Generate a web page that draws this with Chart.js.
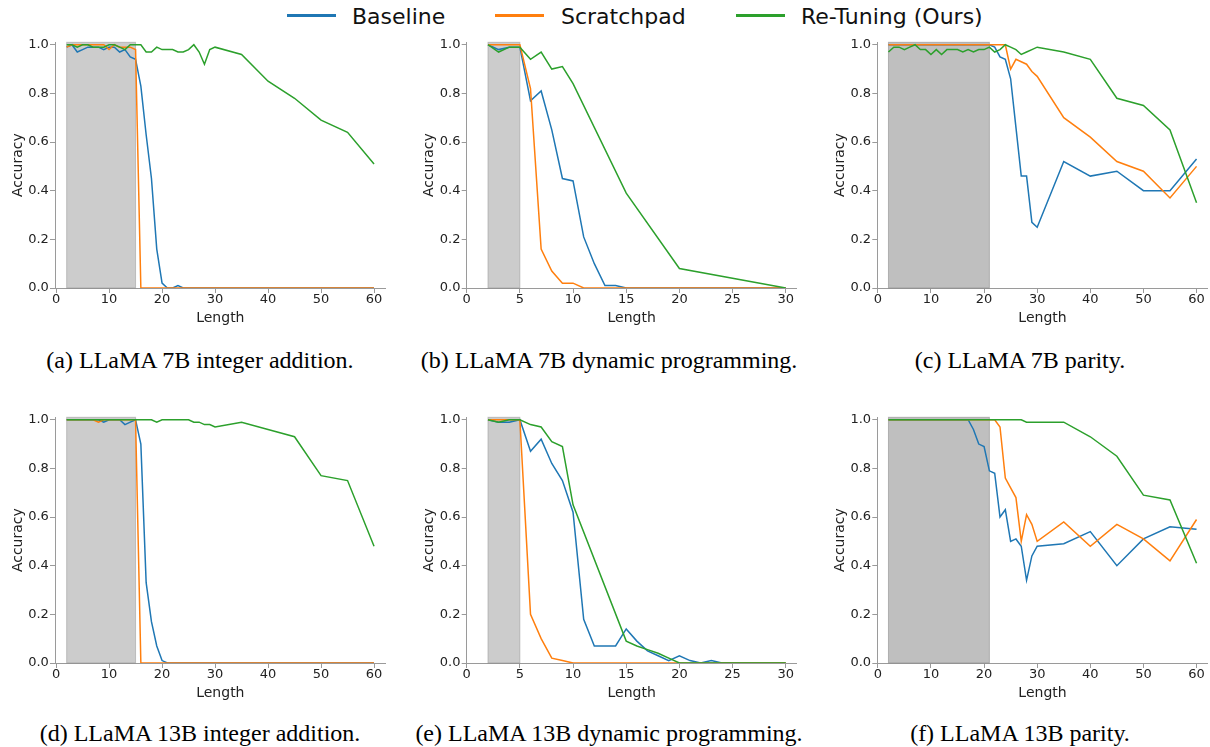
<!DOCTYPE html>
<html><head><meta charset="utf-8">
<script src="https://cdn.jsdelivr.net/npm/chart.js@4.4.0/dist/chart.umd.min.js"></script>
<style>
html,body{margin:0;padding:0;background:#fff;}
body{width:1210px;height:747px;overflow:hidden;position:relative;font-family:"DejaVu Sans";}
canvas{position:absolute;}
.cap{position:absolute;font-family:"Liberation Serif";font-size:24px;line-height:24px;white-space:nowrap;transform:translateX(-50%);color:#000;}
.lg-line{position:absolute;height:3px;top:13.5px;width:49px;}
.lg-text{position:absolute;font-family:"DejaVu Sans";font-size:22px;line-height:22px;top:6.4px;white-space:nowrap;color:#111;}
</style></head><body>
<script>
// ---------- data ----------
const seriesNames = ['Baseline', 'Scratchpad', 'Re-Tuning (Ours)'];
const seriesColors = ['#1f77b4', '#ff7f0e', '#2ca02c'];

// (a) LLaMA 7B integer addition
const lenA = [2,3,4,5,6,7,8,9,10,11,12,13,14,15,16,17,18,19,20,21,22,23,24,25,26,27,28,29,30,35,40,45,50,55,60];
const baselineA = [0.99,1.00,0.97,0.98,0.99,0.99,0.99,0.98,0.99,0.99,0.97,0.98,0.95,0.94,0.83,0.63,0.45,0.16,0.02,0.00,0.00,0.01,0.00,0.00,0.00,0.00,0.00,0.00,0.00,0.00,0.00,0.00,0.00,0.00,0.00];
const scratchA  = [0.99,1.00,1.00,1.00,1.00,1.00,1.00,1.00,0.98,1.00,0.99,0.99,0.99,0.98,0.00,0.00,0.00,0.00,0.00,0.00,0.00,0.00,0.00,0.00,0.00,0.00,0.00,0.00,0.00,0.00,0.00,0.00,0.00,0.00,0.00];
const retuneA   = [1.00,1.00,0.99,1.00,1.00,0.99,0.99,0.99,1.00,1.00,0.99,0.98,1.00,1.00,1.00,0.97,0.97,0.99,0.98,0.98,0.98,0.97,0.97,0.98,1.00,0.97,0.92,0.98,0.99,0.96,0.85,0.78,0.69,0.64,0.51];

// (b) LLaMA 7B dynamic programming
const lenB = [2,3,4,5,6,7,8,9,10,11,12,13,14,15,20,25,30];
const baselineB = [1.00,0.98,0.99,0.99,0.77,0.81,0.65,0.45,0.44,0.21,0.10,0.01,0.01,0.00,0.00,0.00,0.00];
const scratchB  = [1.00,1.00,1.00,1.00,0.82,0.16,0.07,0.02,0.02,0.00,0.00,0.00,0.00,0.00,0.00,0.00,0.00];
const retuneB   = [1.00,0.97,0.99,0.99,0.94,0.97,0.90,0.91,0.84,null,null,null,null,0.39,0.08,null,0.00];

// (c) LLaMA 7B parity
const lenC = [2,3,4,5,6,7,8,9,10,11,12,13,14,15,16,17,18,19,20,21,22,23,24,25,26,27,28,29,30,35,40,45,50,55,60];
const baselineC = [1.00,1.00,1.00,1.00,1.00,1.00,1.00,1.00,1.00,1.00,1.00,1.00,1.00,1.00,1.00,1.00,1.00,1.00,1.00,1.00,0.99,0.95,0.94,0.86,0.66,0.46,0.46,0.27,0.25,0.52,0.46,0.48,0.40,0.40,0.53];
const scratchC  = [1.00,1.00,1.00,1.00,1.00,1.00,1.00,1.00,1.00,1.00,1.00,1.00,1.00,1.00,1.00,1.00,1.00,1.00,1.00,1.00,1.00,1.00,1.00,0.90,0.94,0.93,0.92,0.89,0.87,0.70,0.62,0.52,0.48,0.37,0.50];
const retuneC   = [0.97,0.99,0.99,0.98,0.99,1.00,0.98,0.98,0.96,0.98,0.96,0.98,0.98,0.98,0.97,0.98,0.97,0.98,0.98,0.99,0.97,0.98,1.00,0.99,0.98,0.96,0.97,0.98,0.99,0.97,0.94,0.78,0.75,0.65,0.35];

// (d) LLaMA 13B integer addition
const lenD = [2,3,4,5,6,7,8,9,10,11,12,13,14,15,16,17,18,19,20,21,22,23,24,25,26,27,28,29,30,35,40,45,50,55,60];
const baselineD = [1.00,1.00,1.00,1.00,1.00,1.00,1.00,0.99,1.00,1.00,1.00,0.98,0.99,1.00,0.90,0.33,0.17,0.07,0.01,0.00,0.00,0.00,0.00,0.00,0.00,0.00,0.00,0.00,0.00,0.00,0.00,0.00,0.00,0.00,0.00];
const scratchD  = [1.00,1.00,1.00,1.00,1.00,1.00,0.99,1.00,1.00,1.00,1.00,1.00,1.00,1.00,0.00,0.00,0.00,0.00,0.00,0.00,0.00,0.00,0.00,0.00,0.00,0.00,0.00,0.00,0.00,0.00,0.00,0.00,0.00,0.00,0.00];
const retuneD   = [1.00,1.00,1.00,1.00,1.00,1.00,1.00,1.00,1.00,1.00,1.00,1.00,1.00,1.00,1.00,1.00,1.00,0.99,1.00,1.00,1.00,1.00,1.00,1.00,0.99,0.99,0.98,0.98,0.97,0.99,0.96,0.93,0.77,0.75,0.48];

// (e) LLaMA 13B dynamic programming
const lenE = [2,3,4,5,6,7,8,9,10,11,12,13,14,15,16,17,18,19,20,21,22,23,24,25,26,27,28,29,30];
const baselineE = [1.00,0.99,0.99,1.00,0.87,0.92,0.82,0.75,0.62,0.18,0.07,0.07,0.07,0.14,0.09,0.05,0.03,0.01,0.03,0.01,0.00,0.01,0.00,0.00,0.00,0.00,0.00,0.00,0.00];
const scratchE  = [1.00,1.00,1.00,1.00,0.20,0.10,0.02,0.01,0.00,0.00,0.00,0.00,0.00,0.00,0.00,0.00,0.00,0.00,0.00,0.00,0.00,0.00,0.00,0.00,0.00,0.00,0.00,0.00,0.00];
const retuneE   = [1.00,0.99,1.00,1.00,0.98,0.97,0.91,0.89,0.65,null,null,null,null,0.09,0.07,0.055,0.04,0.02,0.00,0.00,0.00,0.00,0.00,0.00,0.00,0.00,0.00,0.00,0.00];

// (f) LLaMA 13B parity
const lenF = [2,3,4,5,6,7,8,9,10,11,12,13,14,15,16,17,18,19,20,21,22,23,24,25,26,27,28,29,30,35,40,45,50,55,60];
const baselineF = [1.00,1.00,1.00,1.00,1.00,1.00,1.00,1.00,1.00,1.00,1.00,1.00,1.00,1.00,1.00,1.00,0.96,0.90,0.89,0.79,0.78,0.60,0.63,0.50,0.51,0.48,0.34,0.44,0.48,0.49,0.54,0.40,0.51,0.56,0.55];
const scratchF  = [1.00,1.00,1.00,1.00,1.00,1.00,1.00,1.00,1.00,1.00,1.00,1.00,1.00,1.00,1.00,1.00,1.00,1.00,1.00,1.00,1.00,0.97,0.76,0.72,0.68,0.50,0.61,0.57,0.50,0.58,0.48,0.57,0.51,0.42,0.59];
const retuneF   = [1.00,1.00,1.00,1.00,1.00,1.00,1.00,1.00,1.00,1.00,1.00,1.00,1.00,1.00,1.00,1.00,1.00,1.00,1.00,1.00,1.00,1.00,1.00,1.00,1.00,1.00,0.99,0.99,0.99,0.99,0.93,0.85,0.69,0.67,0.41];

// training-length ranges (shaded)
const trainA = [2, 15], trainB = [2, 5], trainC = [2, 21];
const trainD = [2, 15], trainE = [2, 5], trainF = [2, 21];

// tick labels
const xTicks60 = [0, 10, 20, 30, 40, 50, 60];
const xTicks30 = [0, 5, 10, 15, 20, 25, 30];
const yTicks = [0.0, 0.2, 0.4, 0.6, 0.8, 1.0];

const captionTexts = [
  '(a) LLaMA 7B integer addition.',
  '(b) LLaMA 7B dynamic programming.',
  '(c) LLaMA 7B parity.',
  '(d) LLaMA 13B integer addition.',
  '(e) LLaMA 13B dynamic programming.',
  '(f) LLaMA 13B parity.'
];

// ---------- layout ----------
const SPINE = '#9a9a9a';
const TEXT = '#222222';
const colLeft = [0, 411, 822];
const colChartLeft = [55, 55.7, 55.3];
const rowTop = [30, 405];
const capCenter = [200, 609, 1020];
const capTop = [348, 721];

const panels = [
  {len: lenA, s: [baselineA, scratchA, retuneA], xt: xTicks60, xmin: -0.2, xmax: 62.2, train: trainA, alpha: 0.4, col: 0, row: 0},
  {len: lenB, s: [baselineB, scratchB, retuneB], xt: xTicks30, xmin: 0, xmax: 31.03, train: trainB, alpha: 0.4, col: 1, row: 0},
  {len: lenC, s: [baselineC, scratchC, retuneC], xt: xTicks60, xmin: -0.1, xmax: 62.1, train: trainC, alpha: 0.5, col: 2, row: 0},
  {len: lenD, s: [baselineD, scratchD, retuneD], xt: xTicks60, xmin: -0.2, xmax: 62.2, train: trainD, alpha: 0.4, col: 0, row: 1},
  {len: lenE, s: [baselineE, scratchE, retuneE], xt: xTicks30, xmin: 0, xmax: 31.03, train: trainE, alpha: 0.4, col: 1, row: 1},
  {len: lenF, s: [baselineF, scratchF, retuneF], xt: xTicks60, xmin: -0.1, xmax: 62.1, train: trainF, alpha: 0.5, col: 2, row: 1}
];

const spanPlugin = {
  id: 'trainSpan',
  beforeDatasetsDraw(chart, args, opts) {
    const {ctx, chartArea, scales} = chart;
    const x0 = scales.x.getPixelForValue(opts.range[0]);
    const x1 = scales.x.getPixelForValue(opts.range[1]);
    const c = 'rgba(128,128,128,' + opts.alpha + ')';
    ctx.save();
    ctx.fillStyle = c;
    ctx.fillRect(x0, chartArea.top, x1 - x0, chartArea.bottom - chartArea.top);
    ctx.strokeStyle = c;
    ctx.lineWidth = 1;
    ctx.strokeRect(x0, chartArea.top, x1 - x0, chartArea.bottom - chartArea.top);
    ctx.restore();
  }
};

Chart.defaults.font.family = 'DejaVu Sans';

panels.forEach((p, idx) => {
  const cv = document.createElement('canvas');
  cv.width = 400; cv.height = 300;
  cv.style.left = colLeft[p.col] + 'px';
  cv.style.top = rowTop[p.row] + 'px';
  cv.style.width = '400px'; cv.style.height = '300px';
  document.body.appendChild(cv);

  const datasets = p.s.map((vals, i) => ({
    label: seriesNames[i],
    data: p.len.map((x, k) => ({x: x, y: vals[k]})),
    borderColor: seriesColors[i],
    backgroundColor: seriesColors[i],
    borderWidth: 1.5,
    pointRadius: 0,
    tension: 0,
    spanGaps: true,
    fill: false,
    order: 3 - i
  }));

  new Chart(cv, {
    type: 'line',
    data: {datasets},
    plugins: [spanPlugin],
    options: {
      responsive: false,
      animation: false,
      devicePixelRatio: 1,
      layout: {padding: {left: 0, right: 14.3, top: 12.3, bottom: 0}},
      plugins: {
        legend: {display: false},
        tooltip: {enabled: false},
        trainSpan: {range: p.train, alpha: p.alpha}
      },
      scales: {
        x: {
          type: 'linear', min: p.xmin, max: p.xmax,
          afterBuildTicks: s => { s.ticks = p.xt.map(v => ({value: v})); },
          afterFit: s => { s.height = 42; },
          grid: {drawOnChartArea: false, drawTicks: true, tickLength: 5, color: SPINE, lineWidth: 1},
          border: {display: true, color: SPINE, width: 1},
          ticks: {font: {size: 13, lineHeight: 1}, color: TEXT, padding: 0, maxRotation: 0, autoSkip: false,
                  callback: v => String(v)},
          title: {display: true, text: 'Length', color: TEXT, font: {size: 14}, padding: {top: 0, bottom: 3.4}}
        },
        y: {
          type: 'linear', min: 0, max: 1.01,
          afterBuildTicks: s => { s.ticks = yTicks.map(v => ({value: v})); },
          afterFit: s => { s.width = colChartLeft[p.col]; },
          grid: {drawOnChartArea: false, drawTicks: true, tickLength: 5, color: SPINE, lineWidth: 1},
          border: {display: true, color: SPINE, width: 1},
          ticks: {font: {size: 13}, color: TEXT, padding: 1.2, autoSkip: false,
                  callback: v => Number(v).toFixed(1)},
          title: {display: true, text: 'Accuracy', color: TEXT, font: {size: 14}, padding: {top: 9.5, bottom: 0}}
        }
      }
    }
  });

  const cap = document.createElement('div');
  cap.className = 'cap';
  cap.textContent = captionTexts[idx];
  cap.style.left = capCenter[p.col] + 'px';
  cap.style.top = capTop[p.row] + 'px';
  document.body.appendChild(cap);
});

// ---------- legend ----------
const legendLineX = [287, 495, 736];
const legendTextX = [352, 561, 801];
seriesNames.forEach((name, i) => {
  const ln = document.createElement('div');
  ln.className = 'lg-line';
  ln.style.left = legendLineX[i] + 'px';
  ln.style.background = seriesColors[i];
  document.body.appendChild(ln);
  const tx = document.createElement('div');
  tx.className = 'lg-text';
  tx.style.left = legendTextX[i] + 'px';
  tx.textContent = name;
  document.body.appendChild(tx);
});
</script>
</body></html>
